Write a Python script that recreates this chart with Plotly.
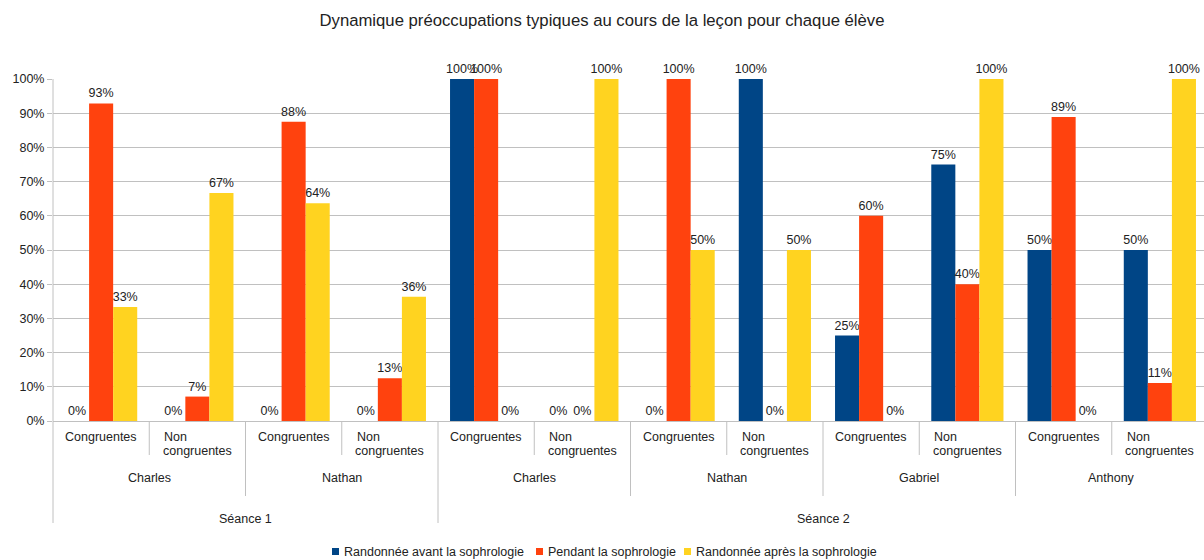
import plotly.graph_objects as go

# ---- data ----
seances = ["Séance 1"] * 4 + ["Séance 2"] * 8
eleves = ["Charles", "Charles", "Nathan", "Nathan",
          "Charles", "Charles", "Nathan", "Nathan",
          "Gabriel", "Gabriel", "Anthony", "Anthony"]
types = ["Congruentes", "Non congruentes"] * 6

series_names = ["Randonnée avant la sophrologie",
                "Pendant la sophrologie",
                "Randonnée après la sophrologie"]
avant = [0, 0, 0, 0, 1, 0, 0, 1, 0.25, 0.75, 0.5, 0.5]
pendant = [0.9286, 0.0714, 0.875, 0.125, 1, 0, 1, 0, 0.6, 0.4, 0.8889, 0.1111]
apres = [0.3333, 0.6667, 0.6364, 0.3636, 0, 1, 0.5, 0.5, 0, 1, 0, 1]
colors = ["#004586", "#ff420e", "#ffd320"]

title = "Dynamique préoccupations typiques au cours de la leçon pour chaque élève"

# ---- layout geometry ----
FIG_W, FIG_H = 1204, 560
L, T = 53, 79
W, H = 1151, 342
CW = 96.25  # pixel width of one category
FONT = "Liberation Sans, Arial, sans-serif"
TXT = "#222222"
GRID = "#c0c0c0"

n = len(types)
xs = list(range(n))

def pxx(px):
    return (px - L) / W

def pxy(py):
    return (T + H - py) / H

def cat_px(k):
    # pixel x of category boundary k (k = 0..n)
    return L + k * CW

fig = go.Figure()
for name, vals, col in zip(series_names, [avant, pendant, apres], colors):
    fig.add_trace(go.Bar(
        x=xs, y=vals, name=name, marker=dict(color=col, line=dict(width=0)),
        text=vals, texttemplate="%{y:.0%}", textposition="outside",
        textfont=dict(family=FONT, size=12.5, color=TXT),
        cliponaxis=False, constraintext="none", showlegend=False,
    ))

shapes = []
annotations = []

def vline(px, py_bottom):
    shapes.append(dict(type="line", xref="paper", yref="paper",
                       x0=pxx(px), x1=pxx(px), y0=pxy(T + H), y1=pxy(py_bottom),
                       line=dict(color=GRID, width=1), layer="above"))

# left axis line (full height incl. category area)
shapes.append(dict(type="line", xref="paper", yref="paper",
                   x0=0, x1=0, y0=1, y1=pxy(523),
                   line=dict(color=GRID, width=1)))

# boundaries
for k in range(1, n):
    if seances[k] != seances[k - 1]:
        vline(cat_px(k), 523)
    elif eleves[k] != eleves[k - 1]:
        vline(cat_px(k), 496)
    else:
        vline(cat_px(k), 455)

# level 1 labels
for i, t in enumerate(types):
    cx = pxx(cat_px(i) + CW / 2)
    if " " in t:
        first, second = t.split(" ", 1)
        annotations.append(dict(xref="paper", yref="paper", x=cx, y=pxy(437),
                                text=first, showarrow=False, xanchor="left",
                                yanchor="middle", xshift=-35,
                                font=dict(family=FONT, size=12.5, color=TXT)))
        annotations.append(dict(xref="paper", yref="paper", x=cx, y=pxy(451),
                                text=second, showarrow=False, xanchor="center",
                                yanchor="middle",
                                font=dict(family=FONT, size=12.5, color=TXT)))
    else:
        annotations.append(dict(xref="paper", yref="paper", x=cx, y=pxy(437),
                                text=t, showarrow=False, xanchor="center",
                                yanchor="middle",
                                font=dict(family=FONT, size=12.5, color=TXT)))

def groups(keys):
    out = []
    start = 0
    for k in range(1, len(keys) + 1):
        if k == len(keys) or keys[k] != keys[start] or seances[k] != seances[start]:
            out.append((keys[start], start, k))
            start = k
    return out

for name, a, b in groups(eleves):
    annotations.append(dict(xref="paper", yref="paper",
                            x=pxx((cat_px(a) + cat_px(b)) / 2), y=pxy(478),
                            text=name, showarrow=False, xanchor="center", yanchor="middle",
                            font=dict(family=FONT, size=12.5, color=TXT)))
for name, a, b in groups(seances):
    annotations.append(dict(xref="paper", yref="paper",
                            x=pxx((cat_px(a) + cat_px(b)) / 2), y=pxy(519),
                            text=name, showarrow=False, xanchor="center", yanchor="middle",
                            font=dict(family=FONT, size=12.5, color=TXT)))

# manual legend
leg_x = [332, 536, 684]
for name, col, lx in zip(series_names, colors, leg_x):
    shapes.append(dict(type="rect", xref="paper", yref="paper",
                       x0=pxx(lx), x1=pxx(lx + 7), y0=pxy(555), y1=pxy(548),
                       fillcolor=col, line=dict(width=0)))
    annotations.append(dict(xref="paper", yref="paper", x=pxx(lx + 10), y=pxy(551.5),
                            text=name, showarrow=False, xanchor="left", yanchor="middle",
                            font=dict(family=FONT, size=12.5, color=TXT)))

fig.update_layout(
    width=FIG_W, height=FIG_H,
    margin=dict(l=L, r=FIG_W - L - W, t=T, b=FIG_H - T - H, pad=0),
    paper_bgcolor="white", plot_bgcolor="white",
    barmode="group", bargap=0.25, bargroupgap=0,
    title=dict(text=title, x=0.5, xref="container", xanchor="center",
               y=1 - 20 / FIG_H, yref="container", yanchor="middle",
               font=dict(family=FONT, size=16.7, color=TXT)),
    xaxis=dict(range=[-0.5, -0.5 + W / CW], showticklabels=False, showgrid=False,
               zeroline=False, ticks="", showline=False, fixedrange=True),
    yaxis=dict(range=[0, 1], dtick=0.1, tickformat=".0%", showgrid=True,
               gridcolor=GRID, gridwidth=1, zeroline=True, zerolinecolor=GRID,
               zerolinewidth=1, ticks="outside", ticklen=5, tickcolor=GRID,
               showline=False, tickfont=dict(family=FONT, size=12.5, color=TXT),
               fixedrange=True),
    shapes=shapes, annotations=annotations,
    showlegend=False,
)

fig.write_html(
    "out.html",
    config={"displayModeBar": False},
    post_script="document.body.style.margin='0';document.body.style.padding='0';"
                "document.body.style.overflow='hidden';",
)
